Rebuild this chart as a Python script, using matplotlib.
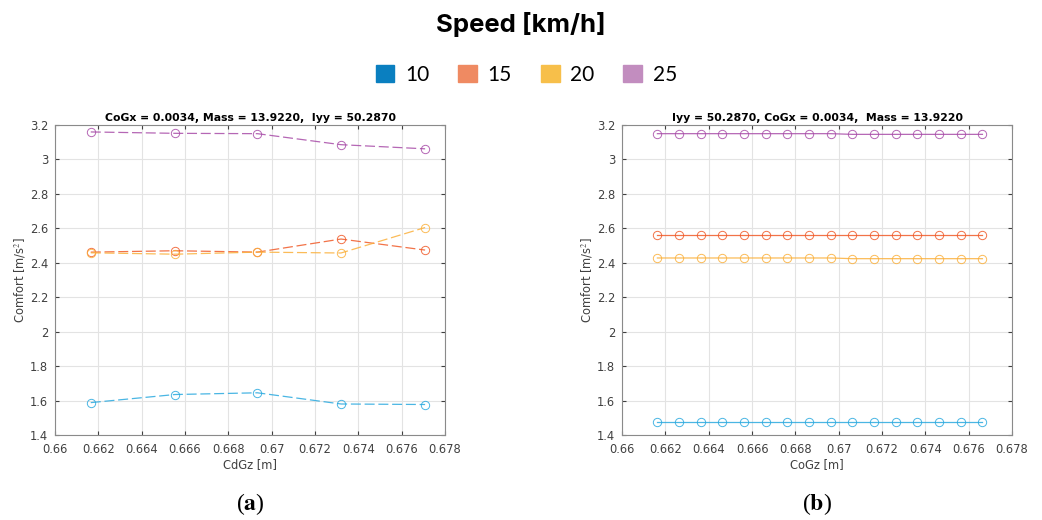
"""Comfort vs CoG height for several speeds, two panels."""

import matplotlib

matplotlib.use("Agg")
import matplotlib.pyplot as plt
from matplotlib.patches import Patch

plt.rcParams["mathtext.fontset"] = "stix"

speeds = ["10", "15", "20", "25"]
line_colors = ["#2aa9df", "#f05a28", "#fbb03b", "#a84ca8"]
legend_colors = ["#0a7fc0", "#ef8a62", "#f7bf4a", "#c28dbf"]

# panel (a): CdGz sweep
x_a = [0.66165, 0.66554, 0.66934, 0.67320, 0.67708]
comfort_a = {
    "10": [1.588, 1.635, 1.645, 1.580, 1.577],
    "15": [2.462, 2.470, 2.462, 2.538, 2.474],
    "20": [2.458, 2.450, 2.462, 2.457, 2.605],
    "25": [3.160, 3.152, 3.150, 3.086, 3.062],
}

# panel (b): CoGz sweep
x_b = [0.66163, 0.66263, 0.66363, 0.66463, 0.66563, 0.66663, 0.66763, 0.66863,
       0.66963, 0.67063, 0.67163, 0.67263, 0.67363, 0.67463, 0.67563, 0.67663]
comfort_b = {
    "10": [1.478] * 16,
    "15": [2.559] * 16,
    "20": [2.428] * 9 + [2.424] * 7,
    "25": [3.150] * 9 + [3.146] * 7,
}

titles = [
    "CoGx = 0.0034, Mass = 13.9220,  Iyy = 50.2870",
    "Iyy = 50.2870, CoGx = 0.0034,  Mass = 13.9220",
]
xlabels = ["CdGz [m]", "CoGz [m]"]
panel_tags = ["a", "b"]
xticks = [0.66, 0.662, 0.664, 0.666, 0.668, 0.67, 0.672, 0.674, 0.676, 0.678]
xtick_labels = ["0.66", "0.662", "0.664", "0.666", "0.668", "0.67",
                "0.672", "0.674", "0.676", "0.678"]
yticks = [1.4, 1.6, 1.8, 2.0, 2.2, 2.4, 2.6, 2.8, 3.0, 3.2]
ytick_labels = ["1.4", "1.6", "1.8", "2", "2.2", "2.4", "2.6", "2.8", "3", "3.2"]

fig = plt.figure(figsize=(10.42, 5.2), dpi=100)

panels = [(x_a, comfort_a, (8, 3)), (x_b, comfort_b, None)]
lefts = [0.0528, 0.597]
for i, (xs, data, dash) in enumerate(panels):
    ax = fig.add_axes([lefts[i], 0.1635, 0.3743, 0.596])
    for sp, col in zip(speeds, line_colors):
        ls = "--" if dash else "-"
        line, = ax.plot(xs, data[sp], ls, color=col, lw=0.9, alpha=0.85,
                        marker="o", markersize=6, markerfacecolor="none",
                        markeredgewidth=0.7)
        if dash:
            line.set_dashes(dash)
    ax.set_xlim(0.66, 0.678)
    ax.set_ylim(1.4, 3.2)
    ax.set_xticks(xticks)
    ax.set_xticklabels(xtick_labels)
    ax.set_yticks(yticks)
    ax.set_yticklabels(ytick_labels)
    ax.grid(True, color="#e3e3e3", lw=0.8)
    ax.set_axisbelow(True)
    ax.tick_params(direction="in", labelsize=8.3, colors="#404040", length=3,
                   top=True, right=True)
    ax.tick_params(axis="x", pad=6)
    ax.tick_params(axis="y", pad=5)
    for s in ax.spines.values():
        s.set_color("#8a8a8a")
        s.set_linewidth(0.8)
    ax.set_title(titles[i], fontsize=7.8, fontweight="bold", pad=3)
    ax.set_xlabel(xlabels[i], fontsize=8.3, color="#404040", labelpad=1)
    ax.set_ylabel("Comfort [m/s$^2$]", fontsize=8.3, color="#404040", labelpad=1)
    cx = lefts[i] + 0.3743 / 2
    fig.text(cx, 0.005, r"($\mathbf{%s}$)" % panel_tags[i], ha="center",
             va="bottom", fontsize=17, family="Liberation Serif")

fig.text(0.5, 0.952, "Speed [km/h]", ha="center", va="center", fontsize=18.5,
         fontweight="bold", family="Inter")
handles = [Patch(facecolor=c, edgecolor=c) for c in legend_colors]
fig.legend(handles, speeds, loc="center", bbox_to_anchor=(0.505, 0.856),
           ncol=4, frameon=False, handlelength=0.9,
           handleheight=0.9, handletextpad=0.5, columnspacing=1.4,
           prop={"family": "Lato", "size": 15})

fig.savefig("out.png", dpi=100)
plt.close(fig)
